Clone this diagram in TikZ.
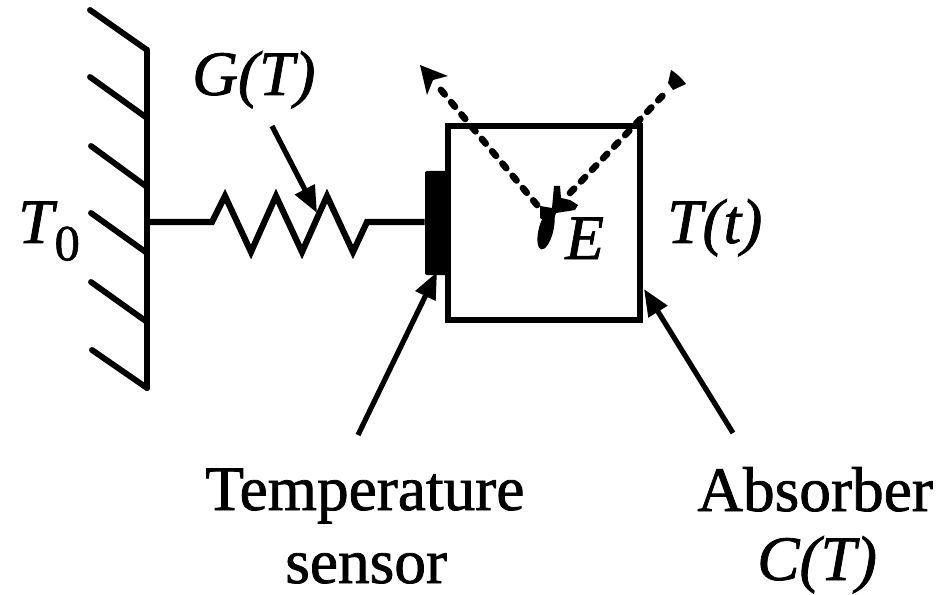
\documentclass[tikz,border=0pt]{standalone}
\usepackage{fontspec}
\setmainfont{Liberation Serif}
\usetikzlibrary{arrows.meta,calc}
\tikzset{
  ink/.style={line width=4.6pt,black,line cap=round,line join=round},
  lbl/.style={inner sep=0pt,anchor=base west,font=\fontsize{47.5}{50}\selectfont\addfontfeature{FakeBold=1.2}},
  ptr/.style={line width=3.9pt,black,-{Triangle[length=20pt,width=16pt]}},
  dash ray/.style={line width=5pt,black,line cap=round,dash pattern=on 4.5pt off 7.5pt},
  boxnode/.style={draw=black,line width=4.6pt,minimum width=144pt,minimum height=146pt,inner sep=0pt,outer sep=0pt},
  sensornode/.style={fill=black,minimum width=18pt,minimum height=78pt,inner sep=0pt,rounded corners=1.5pt},
}
\begin{document}
\begin{tikzpicture}[x=0.75pt,y=-0.75pt]
\useasboundingbox (0,0) rectangle (948,595);
% wall
\coordinate (wt) at (147,50); \coordinate (wb) at (147,388);
\draw[ink] (wt) -- (wb);
\foreach \a/\b/\c in {90/10/50,90/77/118,91/146/187,91/213/253,91/282/322,92/350/388}
  \draw[ink,line width=4.4pt] (\a,\b) -- (147,\c);
% absorber and sensor
\node[boxnode] (abs) at (544,223) {};
\node[sensornode] (sens) at (437,223) {};
% wire + resistor
\coordinate (wj) at (147,222);
\draw[ink,line join=miter,line cap=butt]
  (wj) -- (212,222) -- (225,196) -- (251,252) -- (276,196) -- (302,252) -- (327,196) -- (353,252) -- (367,222) -- (sens.west |- 0,222);
% pointers
\coordinate (gs) at (272,126); \coordinate (ge) at (317,213);
\draw[ptr] (gs) -- (ge);
\coordinate (ss) at (358,435); \coordinate (se) at (437,272);
\draw[ptr] (ss) -- (se);
\coordinate (as) at (733,433); \coordinate (ae) at (644,289);
\draw[ptr] (as) -- (ae);
% event rays
\coordinate (ls) at (537,205);
\coordinate (rs) at (570,193);
\coordinate (ltip) at (420,65);
\coordinate (rtip) at (686,74);
\draw[dash ray] (ls) -- (436,84);
\draw[dash ray] (rs) -- (668,90);
\fill[black] (ltip) -- (448,76) -- (433,80) -- (427,95) -- cycle;
\fill[black] (671,70) to[bend left=10] (686,84) -- (673,90) -- (668,83) -- cycle;
\fill[black] (632,126) -- (642,115) -- (642,128) -- cycle;
% energy deposit blob
\fill[black,rotate around={-14:(546,230)}] (546,230) ellipse (5.5pt and 15pt);
\fill[black] (540,206) -- (552,208) -- (554,186) -- (560,186) -- (561,198) -- (570,200) -- (578,205) -- (575,210) -- (556,213) -- (552,226) -- (540,218) -- cycle;
% labels
\node[lbl] (t0) at (18,243) {\textit{T}\kern-2pt\raisebox{-13pt}{\fontsize{38}{40}\selectfont 0}};
\node[lbl] (gt) at (192,95) {\textit{G(T)}};
\node[lbl] (tt) at (667,243) {\textit{T(t)}};
\node[lbl] (e) at (565,259) {\textit{E}};
\node[lbl] (l1) at (205,510) {Temperature};
\node[lbl] (l2) at (285,583) {sensor};
\node[lbl] (l3) at (697,511) {Absorber};
\node[lbl] (l4) at (757,580) {\textit{C(T)}};
\end{tikzpicture}
\end{document}
